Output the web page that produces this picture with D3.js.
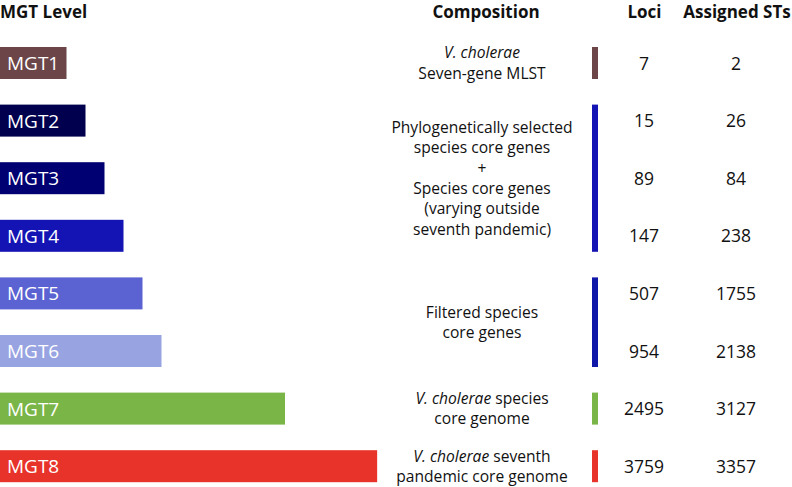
<!DOCTYPE html>
<html>
<head>
<meta charset="utf-8">
<script src="https://cdn.jsdelivr.net/npm/d3@7"></script>
<style>
  html, body { margin: 0; padding: 0; background: #fff; }
  svg { display: block; font-family: "Open Sans", "Noto Sans", sans-serif; }
</style>
</head>
<body>
<svg id="chart" width="792" height="487"></svg>
<script>
// ---- data ----
const levels = ["MGT1", "MGT2", "MGT3", "MGT4", "MGT5", "MGT6", "MGT7", "MGT8"];
const barSize = [3.5, 4.5, 5.5, 6.5, 7.5, 8.5, 15, 19.85]; // relative bar lengths (illustrative)
const loci = [7, 15, 89, 147, 507, 954, 2495, 3759];
const assignedSTs = [2, 26, 84, 238, 1755, 2138, 3127, 3357];
const barColors = ["#6b4548", "#00004f", "#000072", "#1414b4", "#5a63d1", "#98a4e1", "#7ab547", "#e8332b"];
const headers = ["MGT Level", "Composition", "Loci", "Assigned STs"];
// composition groups: first level, last level, colour, lines (each line = list of [text, italic])
const groupFirst = ["MGT1", "MGT2", "MGT5", "MGT7", "MGT8"];
const groupLast  = ["MGT1", "MGT4", "MGT6", "MGT7", "MGT8"];
const groupColors = ["#6b4548", "#1414b4", "#0f17a8", "#7ab547", "#e8332b"];
const groupLines = [
  [[["V. cholerae", true]], [["Seven-gene MLST", false]]],
  [[["Phylogenetically selected", false]], [["species core genes", false]], [["+", false]],
   [["Species core genes", false]], [["(varying outside", false]], [["seventh pandemic)", false]]],
  [[["Filtered species", false]], [["core genes", false]]],
  [[["V. cholerae", true], [" species", false]], [["core genome", false]]],
  [[["V. cholerae", true], [" seventh", false]], [["pandemic core genome", false]]]
];

// ---- layout ----
const svg = d3.select("#chart");
const x = d3.scaleLinear().domain([0, 20]).range([0, 380]);
const y = d3.scalePoint().domain(levels).range([63, 466.2]);
const barH = 32;
const compX = 482, lociX = 644, stsX = 736, groupBarX = 592, groupBarW = 6;
const lineH = 20.4;

// headers
const headerX = [0, 486, 644.5, 737];
const headerAnchor = ["start", "middle", "middle", "middle"];
svg.selectAll("text.header").data(headers).join("text")
  .attr("class", "header")
  .attr("x", (d, i) => headerX[i])
  .attr("y", 18)
  .attr("text-anchor", (d, i) => headerAnchor[i])
  .attr("font-size", 17)
  .attr("font-weight", 700)
  .attr("fill", "#111")
  .text(d => d);

// bars
const rows = levels.map((l, i) => ({ level: l, size: barSize[i], loci: loci[i], sts: assignedSTs[i], color: barColors[i] }));
svg.selectAll("rect.bar").data(rows).join("rect")
  .attr("class", "bar")
  .attr("x", x(0))
  .attr("y", d => y(d.level) - barH / 2)
  .attr("width", d => x(d.size) - x(0))
  .attr("height", barH)
  .attr("fill", d => d.color);

svg.selectAll("text.barlabel").data(rows).join("text")
  .attr("class", "barlabel")
  .attr("x", 7)
  .attr("y", d => y(d.level) + 7)
  .attr("font-size", 19)
  .attr("fill", "#fff")
  .text(d => d.level);

// numbers
svg.selectAll("text.loci").data(rows).join("text")
  .attr("class", "loci")
  .attr("x", lociX)
  .attr("y", d => y(d.level) + 6.5)
  .attr("text-anchor", "middle")
  .attr("font-size", 17.5)
  .attr("fill", "#111")
  .text(d => d.loci);

svg.selectAll("text.sts").data(rows).join("text")
  .attr("class", "sts")
  .attr("x", stsX)
  .attr("y", d => y(d.level) + 6.5)
  .attr("text-anchor", "middle")
  .attr("font-size", 17.5)
  .attr("fill", "#111")
  .text(d => d.sts);

// composition groups
const groups = groupFirst.map((f, i) => ({ first: f, last: groupLast[i], color: groupColors[i], lines: groupLines[i] }));
svg.selectAll("rect.gbar").data(groups).join("rect")
  .attr("class", "gbar")
  .attr("x", groupBarX)
  .attr("y", d => y(d.first) - barH / 2)
  .attr("width", groupBarW)
  .attr("height", d => y(d.last) - y(d.first) + barH)
  .attr("fill", d => d.color);

groups.forEach(g => {
  const cy = (y(g.first) + y(g.last)) / 2;
  const n = g.lines.length;
  const t = svg.append("text")
    .attr("text-anchor", "middle")
    .attr("font-size", 15.6)
    .attr("fill", "#111");
  g.lines.forEach((line, li) => {
    const base = cy + (li - (n - 1) / 2) * lineH + 5.5;
    line.forEach((seg, si) => {
      const ts = t.append("tspan").text(seg[0]).attr("font-style", seg[1] ? "italic" : "normal");
      if (si === 0) ts.attr("x", compX).attr("y", base);
    });
  });
});
</script>
</body>
</html>
